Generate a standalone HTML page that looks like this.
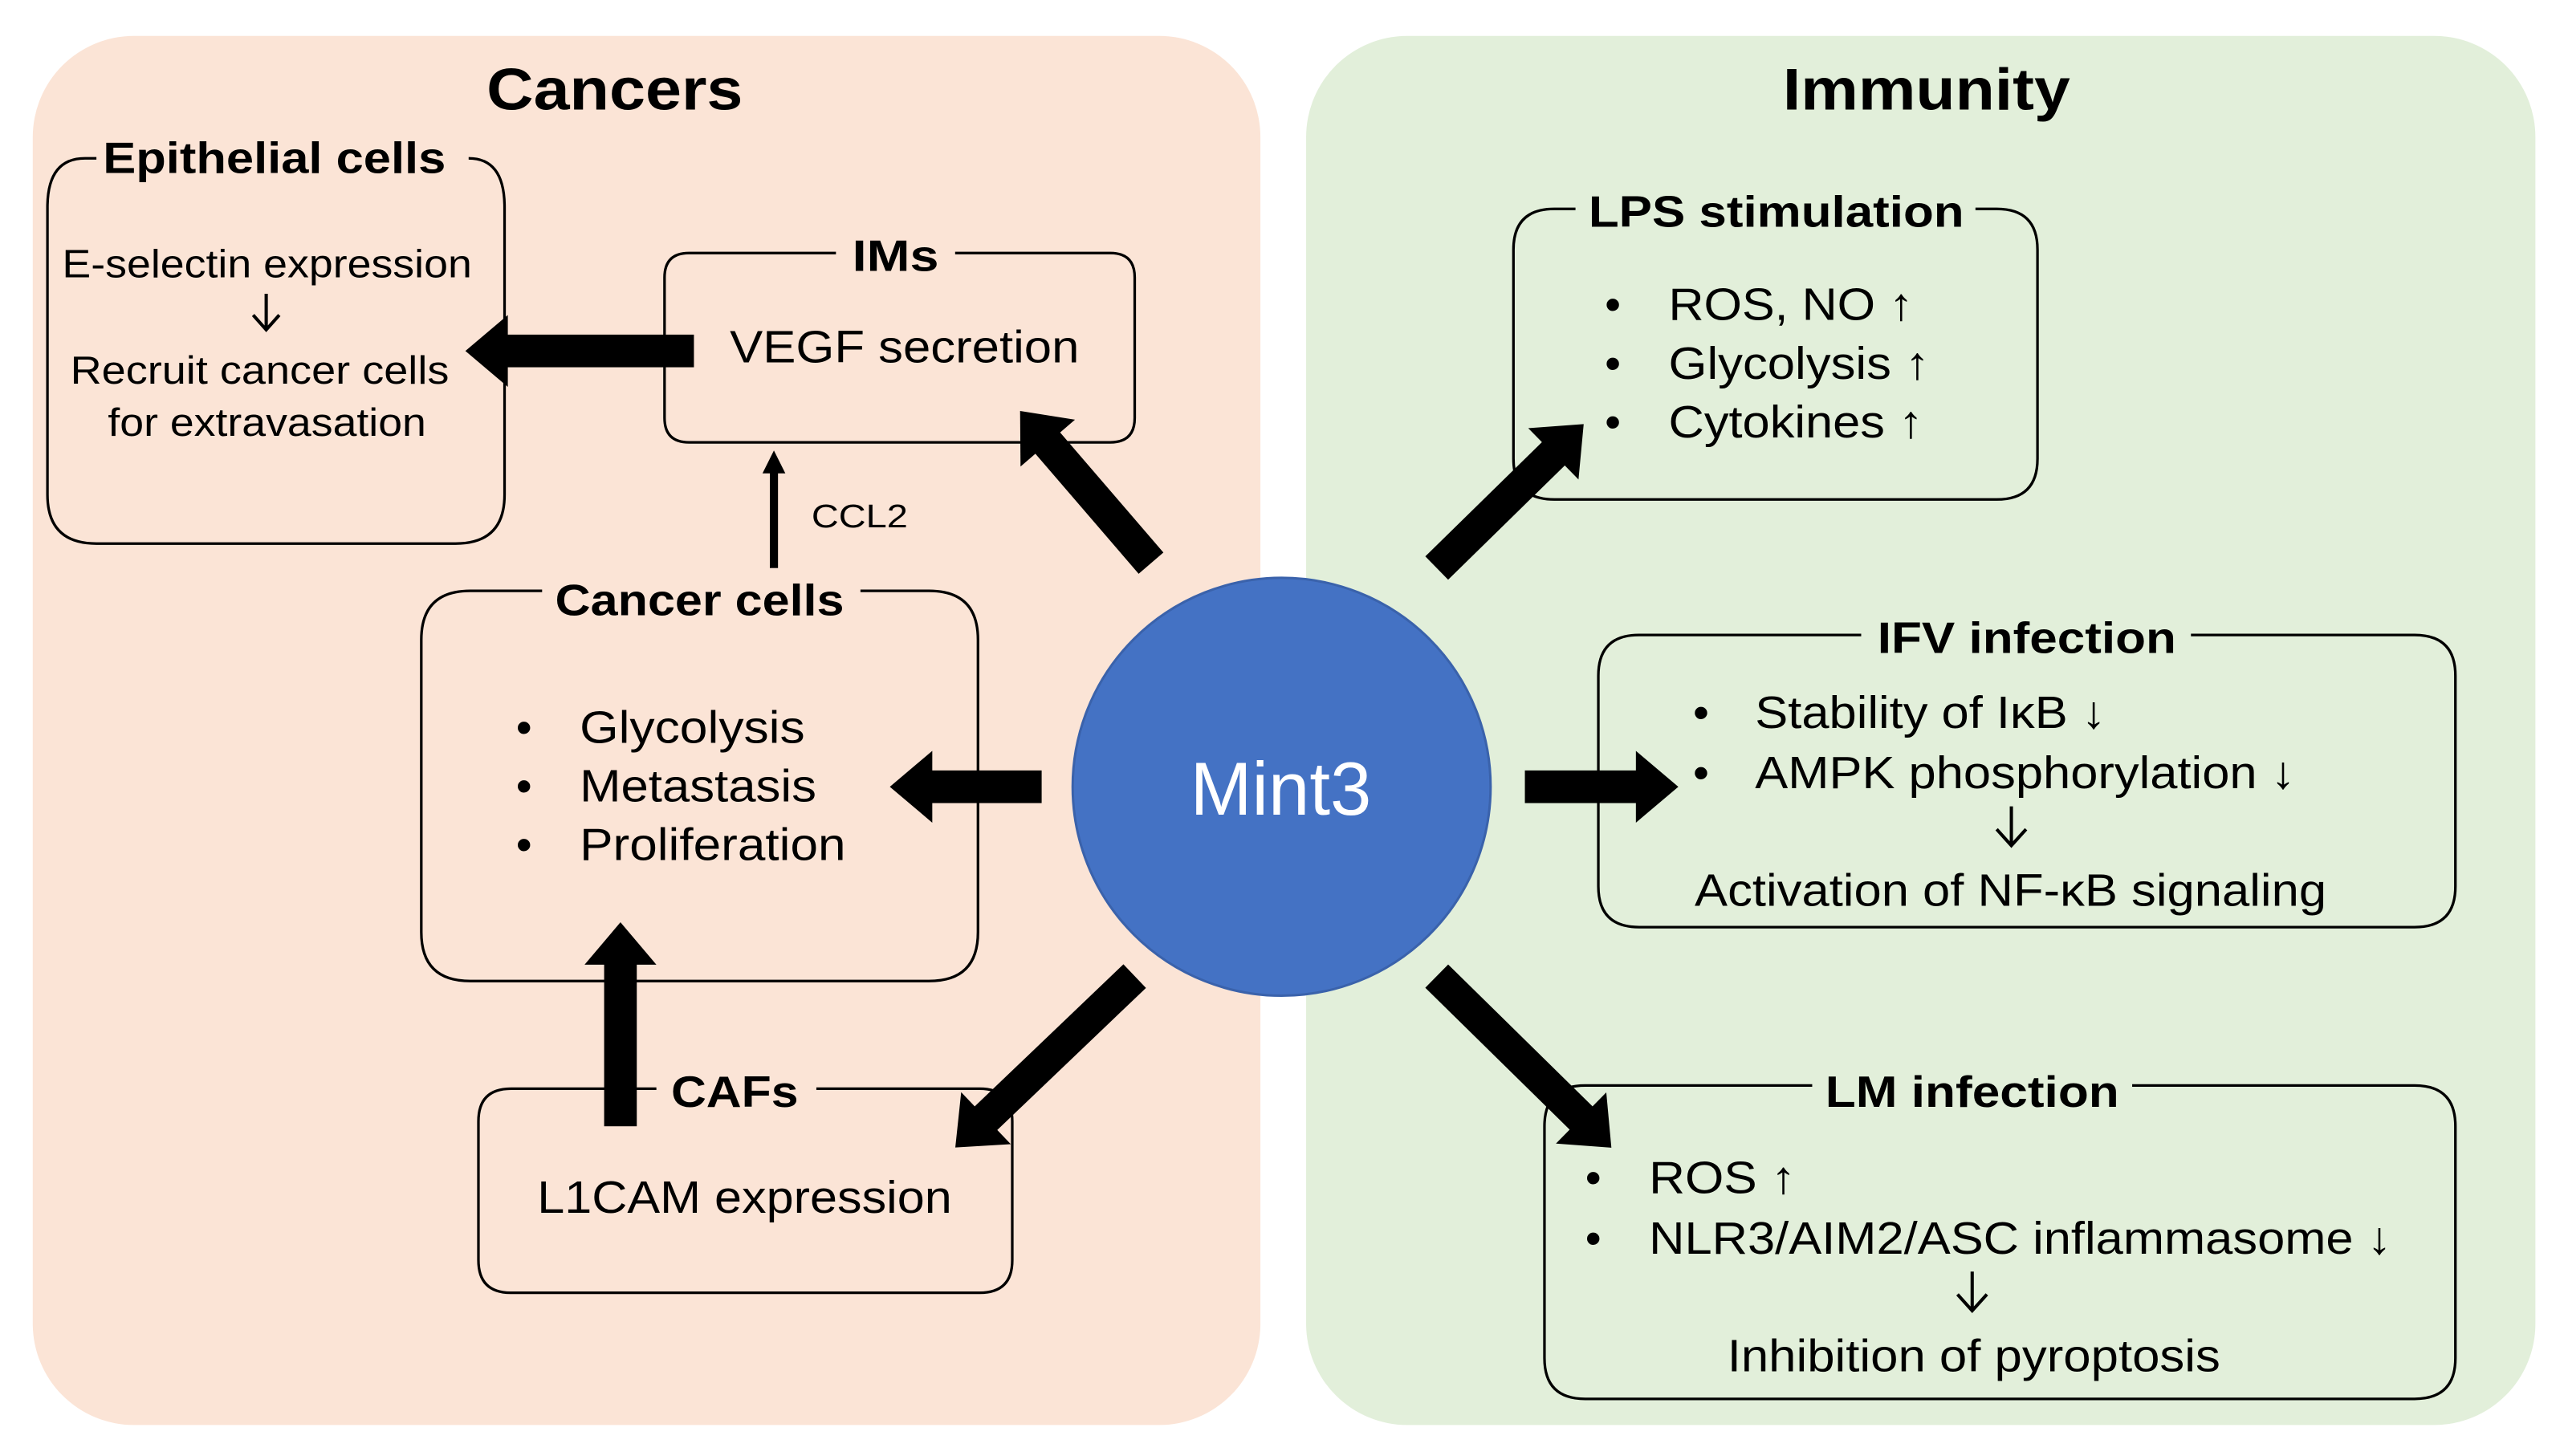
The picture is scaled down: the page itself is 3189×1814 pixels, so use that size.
<!DOCTYPE html>
<html><head><meta charset="utf-8"><style>
html,body{margin:0;padding:0;background:#fff;}
svg{display:block;}
text{font-family:"Liberation Sans",Arial,sans-serif;fill:#000;}
.t{font-weight:bold;font-size:27px;}
.h{font-weight:bold;font-size:36px;}
.b{font-size:28px;}
.s{font-size:24px;}
.box{fill:none;stroke:#000;stroke-width:1.6;}
.da{fill:none;stroke:#000;stroke-width:2;}
</style></head><body>
<svg width="3189" height="1814" viewBox="0 0 1568 892" xmlns="http://www.w3.org/2000/svg">
<rect x="20" y="22" width="752" height="851" rx="62" fill="#fbe4d6"/>
<rect x="800" y="22" width="753" height="851" rx="62" fill="#e2efda"/>
<text class="h" x="298" y="67" textLength="157" lengthAdjust="spacingAndGlyphs">Cancers</text>
<text class="h" x="1092" y="67" textLength="176" lengthAdjust="spacingAndGlyphs">Immunity</text>

<!-- Epithelial -->
<path class="box" d="M52,97 H59 M287,97 Q309,97 309,127 V303 Q309,333 279,333 H59 Q29,333 29,303 V127 Q29,97 52,97"/>
<text class="t" x="63" y="106" textLength="210" lengthAdjust="spacingAndGlyphs">Epithelial cells</text>
<text class="s" x="38" y="170" textLength="251" lengthAdjust="spacingAndGlyphs">E-selectin expression</text>
<path class="da" d="M163,180 V202 M155,193 L163,202 L171,193"/>
<text class="s" x="43" y="235" textLength="232" lengthAdjust="spacingAndGlyphs">Recruit cancer cells</text>
<text class="s" x="66" y="267" textLength="195" lengthAdjust="spacingAndGlyphs">for extravasation</text>

<!-- IMs -->
<path class="box" d="M512,155 H422 Q407,155 407,170 V256 Q407,271 422,271 H680 Q695,271 695,256 V170 Q695,155 680,155 H585"/>
<text class="t" x="522" y="166" textLength="53" lengthAdjust="spacingAndGlyphs">IMs</text>
<text class="b" x="447" y="222" textLength="214" lengthAdjust="spacingAndGlyphs">VEGF secretion</text>

<!-- CCL2 -->
<g transform="translate(474,348) rotate(-90)"><rect x="0" y="-2.5" width="60" height="5"/><polygon points="58,-7 72,0 58,7"/></g>
<text x="497" y="323" style="font-size:20px" textLength="59" lengthAdjust="spacingAndGlyphs">CCL2</text>

<!-- Cancer cells -->
<path class="box" d="M332,362 H288 Q258,362 258,392 V571 Q258,601 288,601 H569 Q599,601 599,571 V392 Q599,362 569,362 H527"/>
<text class="t" x="340" y="377" textLength="177" lengthAdjust="spacingAndGlyphs">Cancer cells</text>
<text class="b" x="316" y="455">•</text><text class="b" x="355" y="455" textLength="138" lengthAdjust="spacingAndGlyphs">Glycolysis</text>
<text class="b" x="316" y="491">•</text><text class="b" x="355" y="491" textLength="145" lengthAdjust="spacingAndGlyphs">Metastasis</text>
<text class="b" x="316" y="527">•</text><text class="b" x="355" y="527" textLength="163" lengthAdjust="spacingAndGlyphs">Proliferation</text>

<!-- CAFs -->
<path class="box" d="M402,667 H313 Q293,667 293,687 V772 Q293,792 313,792 H600 Q620,792 620,772 V687 Q620,667 600,667 H500"/>
<text class="t" x="411" y="678" textLength="78" lengthAdjust="spacingAndGlyphs">CAFs</text>
<text class="b" x="329" y="743" textLength="254" lengthAdjust="spacingAndGlyphs">L1CAM expression</text>

<!-- LPS -->
<path class="box" d="M965,128 H952 Q927,128 927,153 V281 Q927,306 952,306 H1223 Q1248,306 1248,281 V153 Q1248,128 1223,128 H1210"/>
<text class="t" x="973" y="139" textLength="230" lengthAdjust="spacingAndGlyphs">LPS stimulation</text>
<text class="b" x="983" y="196">•</text><text class="b" x="1022" y="196" textLength="150" lengthAdjust="spacingAndGlyphs">ROS, NO ↑</text>
<text class="b" x="983" y="232">•</text><text class="b" x="1022" y="232" textLength="160" lengthAdjust="spacingAndGlyphs">Glycolysis ↑</text>
<text class="b" x="983" y="268">•</text><text class="b" x="1022" y="268" textLength="156" lengthAdjust="spacingAndGlyphs">Cytokines ↑</text>

<!-- IFV -->
<path class="box" d="M1140,389 H1004 Q979,389 979,414 V543 Q979,568 1004,568 H1479 Q1504,568 1504,543 V414 Q1504,389 1479,389 H1342"/>
<text class="t" x="1150" y="400" textLength="183" lengthAdjust="spacingAndGlyphs">IFV infection</text>
<text class="b" x="1037" y="446">•</text><text class="b" x="1075" y="446" textLength="215" lengthAdjust="spacingAndGlyphs">Stability of IκB ↓</text>
<text class="b" x="1037" y="483">•</text><text class="b" x="1075" y="483" textLength="331" lengthAdjust="spacingAndGlyphs">AMPK phosphorylation ↓</text>
<path class="da" d="M1232,494 V518 M1223,508 L1232,518 L1241,508"/>
<text class="b" x="1038" y="555" textLength="387" lengthAdjust="spacingAndGlyphs">Activation of NF-κB signaling</text>

<!-- LM -->
<path class="box" d="M1110,665 H971 Q946,665 946,690 V832 Q946,857 971,857 H1479 Q1504,857 1504,832 V690 Q1504,665 1479,665 H1306"/>
<text class="t" x="1118" y="678" textLength="180" lengthAdjust="spacingAndGlyphs">LM infection</text>
<text class="b" x="971" y="731">•</text><text class="b" x="1010" y="731" textLength="90" lengthAdjust="spacingAndGlyphs">ROS ↑</text>
<text class="b" x="971" y="768">•</text><text class="b" x="1010" y="768" textLength="455" lengthAdjust="spacingAndGlyphs">NLR3/AIM2/ASC inflammasome ↓</text>
<path class="da" d="M1208,779 V803 M1199,793 L1208,803 L1217,793"/>
<text class="b" x="1058" y="840" textLength="302" lengthAdjust="spacingAndGlyphs">Inhibition of pyroptosis</text>

<!-- Mint3 -->
<circle cx="785" cy="482" r="128" fill="#4472c4" stroke="#3a62ab" stroke-width="1.5"/>
<text x="729" y="499" style="font-size:46px;fill:#fff" textLength="111" lengthAdjust="spacingAndGlyphs">Mint3</text>

<!-- thick arrows -->
<g transform="translate(425,215) rotate(180)"><rect x="0" y="-10" width="116" height="20"/><polygon points="114,-22 140,0 114,22"/></g>
<g transform="translate(638,482) rotate(180)"><rect x="0" y="-10" width="69" height="20"/><polygon points="67,-22 93,0 67,22"/></g>
<g transform="translate(380,690) rotate(-90)"><rect x="0" y="-10" width="101" height="20"/><polygon points="99,-22 125,0 99,22"/></g>
<g transform="translate(934,482)"><rect x="0" y="-10" width="70" height="20"/><polygon points="68,-22 94,0 68,22"/></g>
<g transform="translate(705,345) rotate(229.3)"><rect x="0" y="-10" width="99" height="20"/><polygon points="97,-22 123,0 97,22"/></g>
<g transform="translate(695,598) rotate(136.3)"><rect x="0" y="-10" width="128" height="20"/><polygon points="126,-22 152,0 126,22"/></g>
<g transform="translate(880,348) rotate(-44.4)"><rect x="0" y="-10" width="102" height="20"/><polygon points="100,-22 126,0 100,22"/></g>
<g transform="translate(880,598) rotate(44.5)"><rect x="0" y="-10" width="126" height="20"/><polygon points="124,-22 150,0 124,22"/></g>
</svg>
</body></html>
